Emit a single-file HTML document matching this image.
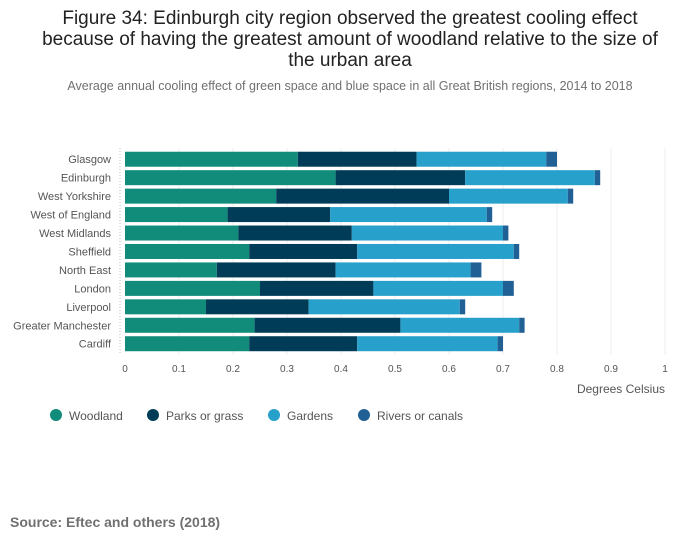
<!DOCTYPE html>
<html><head><meta charset="utf-8">
<style>
body{margin:0;background:#fff;font-family:"Liberation Sans",sans-serif;}
#wrap{position:relative;width:700px;height:549px;overflow:hidden;}
</style></head>
<body>
<div id="wrap">
<svg id="chart" width="700" height="549">
<text x="350" y="24" text-anchor="middle" font-size="19" fill="#222">Figure 34: Edinburgh city region observed the greatest cooling effect</text>
<text x="350" y="45" text-anchor="middle" font-size="19" fill="#222">because of having the greatest amount of woodland relative to the size of</text>
<text x="350" y="66" text-anchor="middle" font-size="19" fill="#222">the urban area</text>
<text x="350" y="90" text-anchor="middle" font-size="12.5" fill="#707070">Average annual cooling effect of green space and blue space in all Great British regions, 2014 to 2018</text>
<g id="grid"></g><g id="bars"></g><g id="labels"></g>
<text x="665" y="393" text-anchor="end" font-size="12" fill="#555">Degrees Celsius</text>
<g id="legend"></g>
<text x="10" y="527" font-size="14" font-weight="bold" fill="#707070">Source: Eftec and others (2018)</text>
</svg>
</div>
<script>
const categories=["Glasgow","Edinburgh","West Yorkshire","West of England","West Midlands","Sheffield","North East","London","Liverpool","Greater Manchester","Cardiff"];
const woodland=[0.32,0.39,0.28,0.19,0.21,0.23,0.17,0.25,0.15,0.24,0.23];
const parks=[0.22,0.24,0.32,0.19,0.21,0.20,0.22,0.21,0.19,0.27,0.20];
const gardens=[0.24,0.24,0.22,0.29,0.28,0.29,0.25,0.24,0.28,0.22,0.26];
const rivers=[0.02,0.01,0.01,0.01,0.01,0.01,0.02,0.02,0.01,0.01,0.01];
const seriesNames=["Woodland","Parks or grass","Gardens","Rivers or canals"];
const xTicks=[0,0.1,0.2,0.3,0.4,0.5,0.6,0.7,0.8,0.9,1];
const xTickLabels=["0","0.1","0.2","0.3","0.4","0.5","0.6","0.7","0.8","0.9","1"];

const NS="http://www.w3.org/2000/svg";
const colors=["#118c7b","#003c57","#27a0cc","#206095"];
const x0=125,x1=665,yTop=150,rowH=18.45,barH=15;
const xs=v=>x0+v*(x1-x0);
const ys=i=>yTop+i*rowH;
function mk(tag,attrs,parent){const e=document.createElementNS(NS,tag);for(const k in attrs)e.setAttribute(k,attrs[k]);parent.appendChild(e);return e;}
const grid=document.getElementById('grid'),bars=document.getElementById('bars'),labels=document.getElementById('labels'),legend=document.getElementById('legend');
xTicks.forEach((t,i)=>{
  if(t>0){const l=mk('line',{x1:xs(t),x2:xs(t),y1:yTop-2,y2:ys(categories.length)+2,stroke:'#ececec','stroke-width':1},grid);
  
  }
  const tx=mk('text',{x:xs(t),y:372,'text-anchor':'middle','font-size':10,fill:'#555'},labels);
  tx.textContent=xTickLabels[i];
  
  
});
const ax=mk('line',{x1:120,x2:120,y1:yTop-2,y2:ys(categories.length)+2,stroke:'#bbb','stroke-dasharray':'1,2'},grid);


const series=[woodland,parks,gardens,rivers];
categories.forEach((c,i)=>{
  const y=ys(i)+(rowH-barH)/2;
  let acc=0;
  series.forEach((s,k)=>{
    const r=mk('rect',{x:xs(acc),y:y,width:xs(acc+s[i])-xs(acc),height:barH,fill:colors[k]},bars);
    
    
    acc+=s[i];
  });
  const t=mk('text',{x:111,y:y+11.5,'text-anchor':'end','font-size':11,fill:'#555'},labels);
  t.textContent=c;
  
  
});
const legX=[56,153,274,364];
seriesNames.forEach((n,k)=>{
  const c=mk('circle',{cx:legX[k],cy:415,r:6,fill:colors[k]},legend);
  
  
  const t=mk('text',{x:legX[k]+13,y:420,'font-size':12,fill:'#555'},legend);
  t.textContent=n;
  
  
});
</script>
</body></html>
